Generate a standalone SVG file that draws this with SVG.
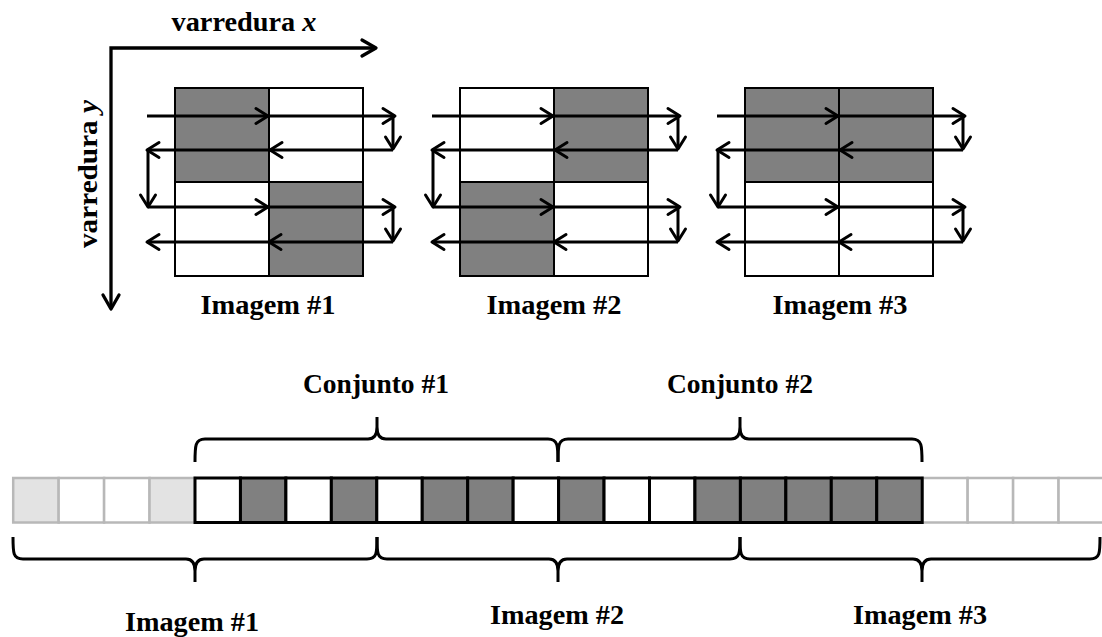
<svg xmlns="http://www.w3.org/2000/svg" xmlns:xlink="http://www.w3.org/1999/xlink" width="1102" height="637" viewBox="0 0 1102 637">
  <style>
    .lbl { font-family: "Liberation Serif", "Times New Roman", serif; font-weight: bold; font-size: 27px; fill: #000; }
    .grid { stroke: #000; stroke-width: 2; }
    .dark { fill: #808080; }
    .light { fill: #ffffff; }
    .scan { fill: none; stroke: #000; stroke-width: 3; marker-mid: url(#head); marker-end: url(#head); }
    .drop { fill: none; stroke: #000; stroke-width: 3; marker-end: url(#head); }
    .axis { fill: none; stroke: #000; stroke-width: 3.3; marker-start: url(#axhead); marker-end: url(#axhead); }
    .cell { stroke: #000; stroke-width: 3; }
    .ghost { stroke: #b8b8b8; stroke-width: 2.5; }
    .brace { fill: none; stroke: #000; stroke-width: 3; }
  </style>
  <defs>
    <marker id="head" markerUnits="userSpaceOnUse" orient="auto" refX="0" refY="0" markerWidth="30" markerHeight="30" viewBox="-15 -15 30 30" overflow="visible">
      <path d="M -12,-7.5 L 0,0 L -12,7.5" fill="none" stroke="#000" stroke-width="3" stroke-linejoin="round" stroke-linecap="round"/>
    </marker>
    <marker id="axhead" markerUnits="userSpaceOnUse" orient="auto-start-reverse" refX="0" refY="0" markerWidth="30" markerHeight="30" viewBox="-15 -15 30 30" overflow="visible">
      <path d="M -14,-8 L 0,0 L -14,8" fill="none" stroke="#000" stroke-width="3.3" stroke-linejoin="round" stroke-linecap="round"/>
    </marker>
    <!-- raster scan path over a 2x2 grid, relative to the grid's left edge -->
    <g id="scanpath">
      <path class="scan" d="M -28,116 L 93,116 L 220,116"/>
      <path class="drop" d="M 218,116 L 218,149"/>
      <path class="scan" d="M 218,150 L 95,150 L -28,150"/>
      <path class="drop" d="M -27,150 L -27,207"/>
      <path class="scan" d="M -27,207 L 93,207 L 220,207"/>
      <path class="drop" d="M 218,207 L 218,241"/>
      <path class="scan" d="M 218,242 L 94,242 L -28,242"/>
    </g>
  </defs>

  <rect width="1102" height="637" fill="#ffffff"/>

  <!-- scan axes -->
  <g id="axes">
    <path class="axis" d="M 111,309 L 111,48 L 376,48"/>
    <text class="lbl" x="244" y="31" text-anchor="middle" textLength="145" lengthAdjust="spacingAndGlyphs">varredura <tspan font-style="italic">x</tspan></text>
    <text class="lbl" transform="translate(97,174) rotate(-90)" x="0" y="0" text-anchor="middle" textLength="148" lengthAdjust="spacingAndGlyphs">varredura <tspan font-style="italic">y</tspan></text>
  </g>

  <!-- image 1 -->
  <g id="imagem1">
    <rect class="grid dark" x="175" y="88" width="94" height="94"/>
    <rect class="grid light" x="269" y="88" width="94" height="94"/>
    <rect class="grid light" x="175" y="182" width="94" height="94"/>
    <rect class="grid dark" x="269" y="182" width="94" height="94"/>
    <use xlink:href="#scanpath" transform="translate(175,0)"/>
    <text class="lbl" x="268" y="314" text-anchor="middle" textLength="135" lengthAdjust="spacingAndGlyphs">Imagem #1</text>
  </g>

  <!-- image 2 -->
  <g id="imagem2">
    <rect class="grid light" x="460" y="88" width="94" height="94"/>
    <rect class="grid dark" x="554" y="88" width="94" height="94"/>
    <rect class="grid dark" x="460" y="182" width="94" height="94"/>
    <rect class="grid light" x="554" y="182" width="94" height="94"/>
    <use xlink:href="#scanpath" transform="translate(460,0)"/>
    <text class="lbl" x="554" y="314" text-anchor="middle" textLength="135" lengthAdjust="spacingAndGlyphs">Imagem #2</text>
  </g>

  <!-- image 3 -->
  <g id="imagem3">
    <rect class="grid dark" x="745" y="88" width="94" height="94"/>
    <rect class="grid dark" x="839" y="88" width="94" height="94"/>
    <rect class="grid light" x="745" y="182" width="94" height="94"/>
    <rect class="grid light" x="839" y="182" width="94" height="94"/>
    <use xlink:href="#scanpath" transform="translate(745,0)"/>
    <text class="lbl" x="840" y="314" text-anchor="middle" textLength="135" lengthAdjust="spacingAndGlyphs">Imagem #3</text>
  </g>

  <!-- serialized pixel stream -->
  <g id="stream">
    <rect class="ghost" x="13.2" y="478" width="45.45" height="44.5" fill="#e3e3e3"/>
    <rect class="ghost" x="58.65" y="478" width="45.45" height="44.5" fill="#ffffff"/>
    <rect class="ghost" x="104.1" y="478" width="45.45" height="44.5" fill="#ffffff"/>
    <rect class="ghost" x="149.55" y="478" width="45.45" height="44.5" fill="#e3e3e3"/>
    <rect class="ghost" x="922.2" y="478" width="45.45" height="44.5" fill="#ffffff"/>
    <rect class="ghost" x="967.65" y="478" width="45.45" height="44.5" fill="#ffffff"/>
    <rect class="ghost" x="1013.1" y="478" width="45.45" height="44.5" fill="#ffffff"/>
    <rect class="ghost" x="1058.55" y="478" width="45.45" height="44.5" fill="#ffffff"/>

    <rect class="cell light" x="195" y="478" width="45.45" height="44.5"/>
    <rect class="cell dark" x="240.45" y="478" width="45.45" height="44.5"/>
    <rect class="cell light" x="285.9" y="478" width="45.45" height="44.5"/>
    <rect class="cell dark" x="331.35" y="478" width="45.45" height="44.5"/>
    <rect class="cell light" x="376.8" y="478" width="45.45" height="44.5"/>
    <rect class="cell dark" x="422.25" y="478" width="45.45" height="44.5"/>
    <rect class="cell dark" x="467.7" y="478" width="45.45" height="44.5"/>
    <rect class="cell light" x="513.15" y="478" width="45.45" height="44.5"/>
    <rect class="cell dark" x="558.6" y="478" width="45.45" height="44.5"/>
    <rect class="cell light" x="604.05" y="478" width="45.45" height="44.5"/>
    <rect class="cell light" x="649.5" y="478" width="45.45" height="44.5"/>
    <rect class="cell dark" x="694.95" y="478" width="45.45" height="44.5"/>
    <rect class="cell dark" x="740.4" y="478" width="45.45" height="44.5"/>
    <rect class="cell dark" x="785.85" y="478" width="45.45" height="44.5"/>
    <rect class="cell dark" x="831.3" y="478" width="45.45" height="44.5"/>
    <rect class="cell dark" x="876.75" y="478" width="45.45" height="44.5"/>
  </g>

  <!-- upper braces: sets -->
  <g id="conjunto1">
    <path class="brace" d="M 195,462 C 195,446 195,439 205,439 L 368,439 C 374,439 377,435 377,427 L 377,417 M 377,427 C 377,435 380,439 386,439 L 548,439 C 558,439 558,446 558,462"/>
    <text class="lbl" x="376" y="393" text-anchor="middle" textLength="146" lengthAdjust="spacingAndGlyphs">Conjunto #1</text>
  </g>
  <g id="conjunto2">
    <path class="brace" d="M 558,462 C 558,446 558,439 568,439 L 731,439 C 737,439 740,435 740,427 L 740,417 M 740,427 C 740,435 743,439 749,439 L 912,439 C 922,439 922,446 922,462"/>
    <text class="lbl" x="740" y="393" text-anchor="middle" textLength="146" lengthAdjust="spacingAndGlyphs">Conjunto #2</text>
  </g>

  <!-- lower braces: images -->
  <g id="faixa1">
    <path class="brace" d="M 13,537 C 13,553 13,559 23,559 L 186,559 C 192,559 195,563 195,571 L 195,582 M 195,571 C 195,563 198,559 204,559 L 367,559 C 377,559 377,553 377,537"/>
    <text class="lbl" x="192" y="631" text-anchor="middle" textLength="134" lengthAdjust="spacingAndGlyphs">Imagem #1</text>
  </g>
  <g id="faixa2">
    <path class="brace" d="M 377,537 C 377,553 377,559 387,559 L 549,559 C 555,559 558,563 558,571 L 558,582 M 558,571 C 558,563 561,559 567,559 L 730,559 C 740,559 740,553 740,537"/>
    <text class="lbl" x="557" y="624" text-anchor="middle" textLength="134" lengthAdjust="spacingAndGlyphs">Imagem #2</text>
  </g>
  <g id="faixa3">
    <path class="brace" d="M 740,537 C 740,553 740,559 750,559 L 913,559 C 919,559 922,563 922,571 L 922,582 M 922,571 C 922,563 925,559 931,559 L 1090,559 C 1100,559 1100,553 1100,537"/>
    <text class="lbl" x="920" y="624" text-anchor="middle" textLength="134" lengthAdjust="spacingAndGlyphs">Imagem #3</text>
  </g>
</svg>
